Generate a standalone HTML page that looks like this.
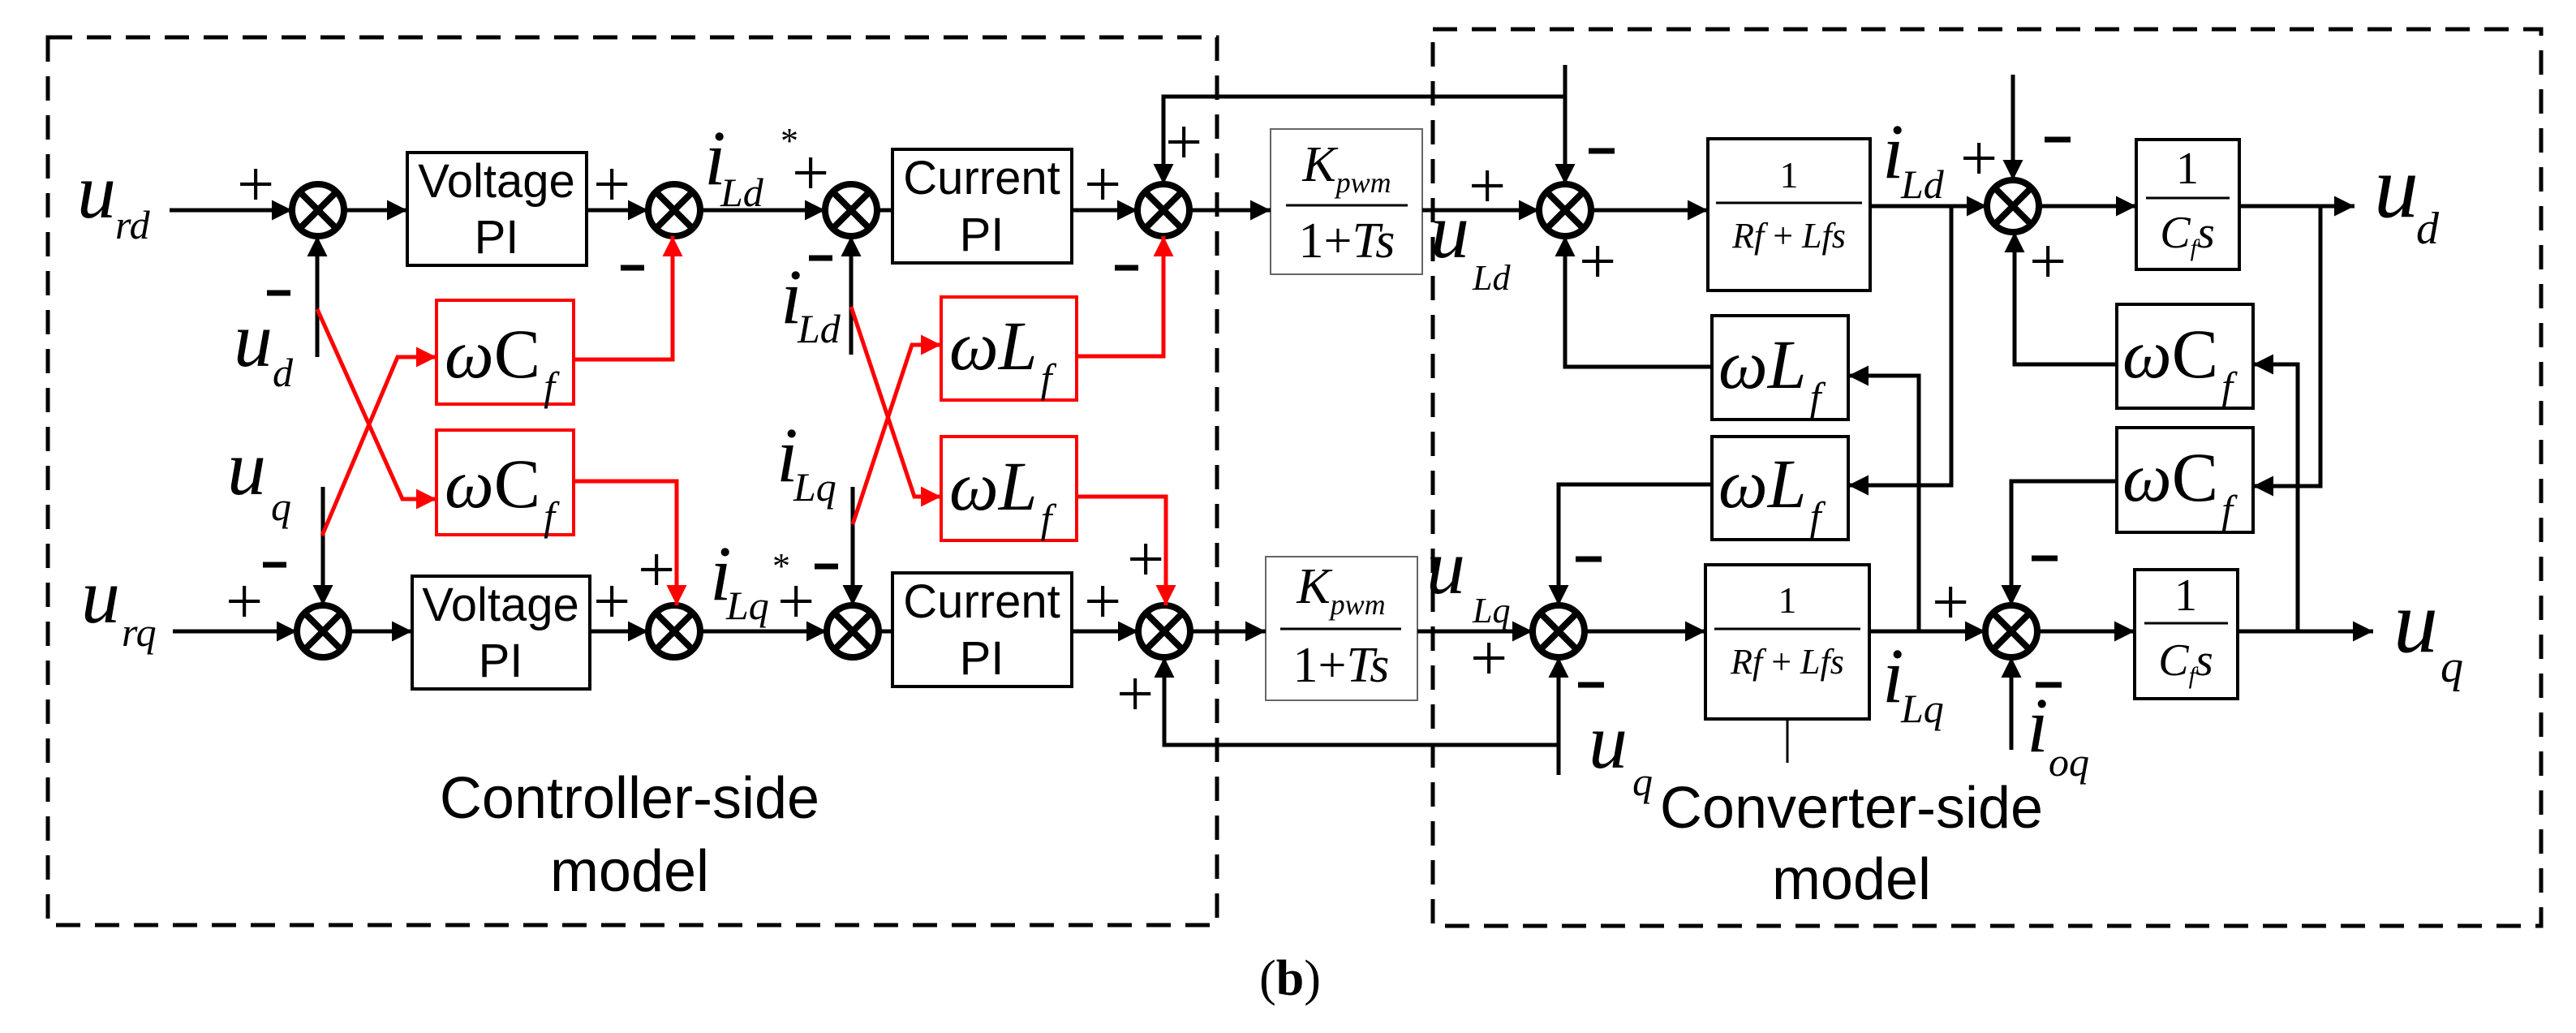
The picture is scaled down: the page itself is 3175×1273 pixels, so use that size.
<!DOCTYPE html>
<html><head><meta charset="utf-8"><style>
html,body{margin:0;padding:0;background:#fff;}
svg{display:block;}
.m{font-family:"Liberation Serif",serif;font-style:italic;}
.s{font-family:"Liberation Sans",sans-serif;}
.r{font-family:"Liberation Serif",serif;}
</style></head><body>
<svg width="3175" height="1273" viewBox="0 0 3175 1273" xmlns="http://www.w3.org/2000/svg">
<defs>
<marker id="a" viewBox="0 0 10 10" refX="10" refY="5" markerWidth="7" markerHeight="5" markerUnits="strokeWidth" orient="auto"><path d="M0,0L10,5L0,10z" fill="#000"/></marker>
<marker id="ar" viewBox="0 0 10 10" refX="10" refY="5" markerWidth="7" markerHeight="5" markerUnits="strokeWidth" orient="auto"><path d="M0,0L10,5L0,10z" fill="#f00"/></marker>
</defs>
<g fill="none" stroke="#000" stroke-width="5" stroke-dasharray="30,18">
<rect x="59" y="46" width="1441" height="1094"/>
<rect x="1766" y="36" width="1366" height="1105"/>
</g>
<g stroke="#000" stroke-width="8" fill="none">
<ellipse cx="392" cy="259" rx="32" ry="32"/><path d="M369,236L415,282M415,236L369,282"/>
<ellipse cx="831" cy="259" rx="32" ry="32"/><path d="M808,236L854,282M854,236L808,282"/>
<ellipse cx="1049" cy="259" rx="32" ry="32"/><path d="M1026,236L1072,282M1072,236L1026,282"/>
<ellipse cx="1434" cy="259" rx="32" ry="32"/><path d="M1411,236L1457,282M1457,236L1411,282"/>
<ellipse cx="398" cy="778" rx="32" ry="32"/><path d="M375,755L421,801M421,755L375,801"/>
<ellipse cx="831" cy="778" rx="32" ry="32"/><path d="M808,755L854,801M854,755L808,801"/>
<ellipse cx="1051" cy="778" rx="32" ry="32"/><path d="M1028,755L1074,801M1074,755L1028,801"/>
<ellipse cx="1435" cy="778" rx="32" ry="32"/><path d="M1412,755L1458,801M1458,755L1412,801"/>
<ellipse cx="1929" cy="259" rx="32" ry="32"/><path d="M1906,236L1952,282M1952,236L1906,282"/>
<ellipse cx="2481" cy="254" rx="32" ry="32"/><path d="M2458,231L2504,277M2504,231L2458,277"/>
<ellipse cx="1921" cy="778" rx="32" ry="32"/><path d="M1898,755L1944,801M1944,755L1898,801"/>
<ellipse cx="2479" cy="778" rx="32" ry="32"/><path d="M2456,755L2502,801M2502,755L2456,801"/>
</g>
<g fill="none" stroke="#000" stroke-width="4">
<rect x="502" y="188" width="221" height="139"/>
<rect x="508" y="710" width="219" height="139"/>
<rect x="1100" y="184" width="221" height="140"/>
<rect x="1100" y="706" width="221" height="140"/>
<rect x="2105" y="171" width="200" height="187"/>
<rect x="2102" y="696" width="202" height="190"/>
<rect x="2633" y="172" width="127" height="160"/>
<rect x="2631" y="702" width="127" height="159"/>
<rect x="2110" y="389" width="168" height="128"/>
<rect x="2110" y="538" width="168" height="127"/>
<rect x="2609" y="375" width="168" height="128"/>
<rect x="2609" y="527" width="168" height="129"/>
</g>
<g fill="none" stroke="#666" stroke-width="2">
<rect x="1566" y="159" width="187" height="179"/>
<rect x="1560" y="686" width="187" height="177"/>
</g>
<g fill="none" stroke="#f00" stroke-width="4">
<rect x="538" y="370" width="169" height="128"/>
<rect x="538" y="530" width="169" height="129"/>
<rect x="1160" y="366" width="167" height="127"/>
<rect x="1160" y="538" width="167" height="128"/>
</g>
<g fill="none" stroke="#000" stroke-width="5">
<path d="M209,259H360" marker-end="url(#a)"/>
<path d="M424,259H502" marker-end="url(#a)"/>
<path d="M723,259H799" marker-end="url(#a)"/>
<path d="M863,259H1017" marker-end="url(#a)"/>
<path d="M1081,259H1100"/>
<path d="M1321,259H1402" marker-end="url(#a)"/>
<path d="M1466,259H1566" marker-end="url(#a)"/>
<path d="M1753,259H1897" marker-end="url(#a)"/>
<path d="M1961,259H2105" marker-end="url(#a)"/>
<path d="M2305,254H2449" marker-end="url(#a)"/>
<path d="M2513,254H2633" marker-end="url(#a)"/>
<path d="M2760,254H2902" marker-end="url(#a)"/>
<path d="M213,778H366" marker-end="url(#a)"/>
<path d="M430,778H508" marker-end="url(#a)"/>
<path d="M727,778H799" marker-end="url(#a)"/>
<path d="M863,778H1019" marker-end="url(#a)"/>
<path d="M1083,778H1100"/>
<path d="M1321,778H1403" marker-end="url(#a)"/>
<path d="M1467,778H1560" marker-end="url(#a)"/>
<path d="M1747,778H1889" marker-end="url(#a)"/>
<path d="M1953,778H2102" marker-end="url(#a)"/>
<path d="M2304,778H2447" marker-end="url(#a)"/>
<path d="M2511,778H2631" marker-end="url(#a)"/>
<path d="M2758,778H2925" marker-end="url(#a)"/>
<path d="M391,440V291" marker-end="url(#a)"/>
<path d="M398,600V746" marker-end="url(#a)"/>
<path d="M1049,437V291" marker-end="url(#a)"/>
<path d="M1051,600V746" marker-end="url(#a)"/>
<path d="M1929,80V227" marker-end="url(#a)"/>
<path d="M1929,119H1434V227" marker-end="url(#a)"/>
<path d="M1921,955V810" marker-end="url(#a)"/>
<path d="M1921,918H1435V810" marker-end="url(#a)"/>
<path d="M2481,92V222" marker-end="url(#a)"/>
<path d="M2479,924V810" marker-end="url(#a)"/>
<path d="M2110,452H1929V291" marker-end="url(#a)"/>
<path d="M2110,597H1921V746" marker-end="url(#a)"/>
<path d="M2365,778V463H2278" marker-end="url(#a)"/>
<path d="M2405,254V598H2278" marker-end="url(#a)"/>
<path d="M2609,449H2483V286" marker-end="url(#a)"/>
<path d="M2609,593H2479V746" marker-end="url(#a)"/>
<path d="M2832,778V449H2777" marker-end="url(#a)"/>
<path d="M2860,254V599H2777" marker-end="url(#a)"/>
</g>
<path d="M2203,886V940" stroke="#000" stroke-width="3"/>
<g fill="none" stroke="#f00" stroke-width="5">
<path d="M707,443H829V291" marker-end="url(#ar)"/>
<path d="M707,593H834V746" marker-end="url(#ar)"/>
<path d="M1327,439H1434V291" marker-end="url(#ar)"/>
<path d="M1327,612H1437V746" marker-end="url(#ar)"/>
<path d="M391,381L496,615H538" marker-end="url(#ar)"/>
<path d="M397,660L490,440H538" marker-end="url(#ar)"/>
<path d="M1049,378L1127,612H1160" marker-end="url(#ar)"/>
<path d="M1051,646L1124,425H1160" marker-end="url(#ar)"/>
</g>
<g stroke="#000" stroke-width="3">
<path d="M1585,253H1735"/>
<path d="M1578,775H1727"/>
<path d="M2115,250H2295"/>
<path d="M2113,775H2293"/>
<path d="M2645,244H2748"/>
<path d="M2643,768H2746"/>
</g>
<g class="s" font-size="58" text-anchor="middle" fill="#000">
<text x="612" y="243">Voltage</text><text x="612" y="312">PI</text>
<text x="617" y="765">Voltage</text><text x="617" y="834">PI</text>
<text x="1210" y="239">Current</text><text x="1210" y="309">PI</text>
<text x="1210" y="761">Current</text><text x="1210" y="831">PI</text>
</g>
<g class="s" font-size="72" text-anchor="middle">
<text x="776" y="1008">Controller-side</text>
<text x="776" y="1098">model</text>
<text x="2282" y="1020">Converter-side</text>
<text x="2282" y="1108">model</text>
</g>
<text class="r" x="1590" y="1226" font-size="62" text-anchor="middle">(<tspan font-weight="bold">b</tspan>)</text>
<g class="r" font-size="86">
<text x="548" y="465"><tspan font-style="italic">ω</tspan>C<tspan class="m" font-size="50" dx="4" dy="28">f</tspan></text>
<text x="548" y="625"><tspan font-style="italic">ω</tspan>C<tspan class="m" font-size="50" dx="4" dy="28">f</tspan></text>
<text x="1170" y="455"><tspan font-style="italic">ωL</tspan><tspan class="m" font-size="50" dx="4" dy="28">f</tspan></text>
<text x="1170" y="628"><tspan font-style="italic">ωL</tspan><tspan class="m" font-size="50" dx="4" dy="28">f</tspan></text>
<text x="2118" y="478"><tspan font-style="italic">ωL</tspan><tspan class="m" font-size="50" dx="4" dy="28">f</tspan></text>
<text x="2118" y="625"><tspan font-style="italic">ωL</tspan><tspan class="m" font-size="50" dx="4" dy="28">f</tspan></text>
<text x="2616" y="465"><tspan font-style="italic">ω</tspan>C<tspan class="m" font-size="50" dx="4" dy="28">f</tspan></text>
<text x="2616" y="617"><tspan font-style="italic">ω</tspan>C<tspan class="m" font-size="50" dx="4" dy="28">f</tspan></text>
</g>
<g class="r" text-anchor="middle">
<text x="1660" y="223" font-size="62"><tspan class="m">K</tspan><tspan class="m" font-size="36" dy="14">pwm</tspan></text>
<text x="1660" y="317" font-size="62">1+<tspan class="m">Ts</tspan></text>
<text x="1653" y="743" font-size="62"><tspan class="m">K</tspan><tspan class="m" font-size="36" dy="14">pwm</tspan></text>
<text x="1653" y="840" font-size="62">1+<tspan class="m">Ts</tspan></text>
<text x="2205" y="231" font-size="46">1</text>
<text x="2205" y="305" font-size="44"><tspan class="m">Rf</tspan> + <tspan class="m">Lfs</tspan></text>
<text x="2203" y="755" font-size="46">1</text>
<text x="2203" y="830" font-size="44"><tspan class="m">Rf</tspan> + <tspan class="m">Lfs</tspan></text>
<text x="2696" y="226" font-size="56">1</text>
<text x="2696" y="305" font-size="56" class="m">C<tspan font-size="30" dy="10">f</tspan><tspan dy="-10">s</tspan></text>
<text x="2694" y="752" font-size="56">1</text>
<text x="2694" y="832" font-size="56" class="m">C<tspan font-size="30" dy="10">f</tspan><tspan dy="-10">s</tspan></text>
</g>
<g class="m" fill="#000">
<text x="95" y="268" font-size="96">u</text><text x="142" y="294" font-size="50">rd</text>
<text x="100" y="767" font-size="96">u</text><text x="150" y="796" font-size="50">rq</text>
<text x="288" y="451" font-size="96">u</text><text x="336" y="476" font-size="50">d</text>
<text x="280" y="609" font-size="96">u</text><text x="334" y="641" font-size="50">q</text>
<text x="868" y="227" font-size="96">i</text><text x="888" y="254" font-size="50">Ld</text>
<text x="962" y="398" font-size="96">i</text><text x="983" y="422" font-size="50">Ld</text>
<text x="957" y="593" font-size="96">i</text><text x="978" y="617" font-size="50">Lq</text>
<text x="875" y="739" font-size="96">i</text><text x="895" y="763" font-size="50">Lq</text>
<text x="1763" y="317" font-size="96">u</text><text x="1815" y="357" font-size="44">Ld</text>
<text x="1758" y="731" font-size="96">u</text><text x="1815" y="767" font-size="44">Lq</text>
<text x="2320" y="219" font-size="96">i</text><text x="2343" y="244" font-size="50">Ld</text>
<text x="2320" y="865" font-size="96">i</text><text x="2343" y="890" font-size="50">Lq</text>
<text x="2926" y="267" font-size="110">u</text><text x="2978" y="300" font-size="56">d</text>
<text x="2950" y="803" font-size="110">u</text><text x="3008" y="840" font-size="56">q</text>
<text x="1958" y="946" font-size="96">u</text><text x="2012" y="980" font-size="50">q</text>
<text x="2498" y="926" font-size="96">i</text><text x="2525" y="956" font-size="50">oq</text>
</g>
<g class="r" font-size="44"><text x="962" y="188">*</text><text x="952" y="712">*</text></g>
<g class="r" font-size="82" fill="#000">
<text x="292" y="254">+</text>
<text x="278" y="768">+</text>
<text x="731" y="254">+</text>
<text x="731" y="768">+</text>
<text x="786" y="729">+</text>
<text x="976" y="240">+</text>
<text x="958" y="768">+</text>
<text x="1336" y="254">+</text>
<text x="1336" y="768">+</text>
<text x="1436" y="202">+</text>
<text x="1389" y="716">+</text>
<text x="1376" y="882">+</text>
<text x="1810" y="256">+</text>
<text x="1946" y="349">+</text>
<text x="1812" y="838">+</text>
<text x="2416" y="222">+</text>
<text x="2501" y="349">+</text>
<text x="2381" y="769">+</text>
</g>
<g stroke="#000" stroke-width="7">
<path d="M329,361H358"/><path d="M324,696H353"/>
<path d="M765,330H794"/><path d="M997,318H1026"/><path d="M1004,698H1033"/>
<path d="M1374,330H1403"/>
<path d="M1958,186H1990"/><path d="M1942,689H1974"/><path d="M1945,844H1977"/>
<path d="M2520,172H2552"/><path d="M2504,688H2536"/><path d="M2509,844H2541"/>
</g>
</svg>
</body></html>
